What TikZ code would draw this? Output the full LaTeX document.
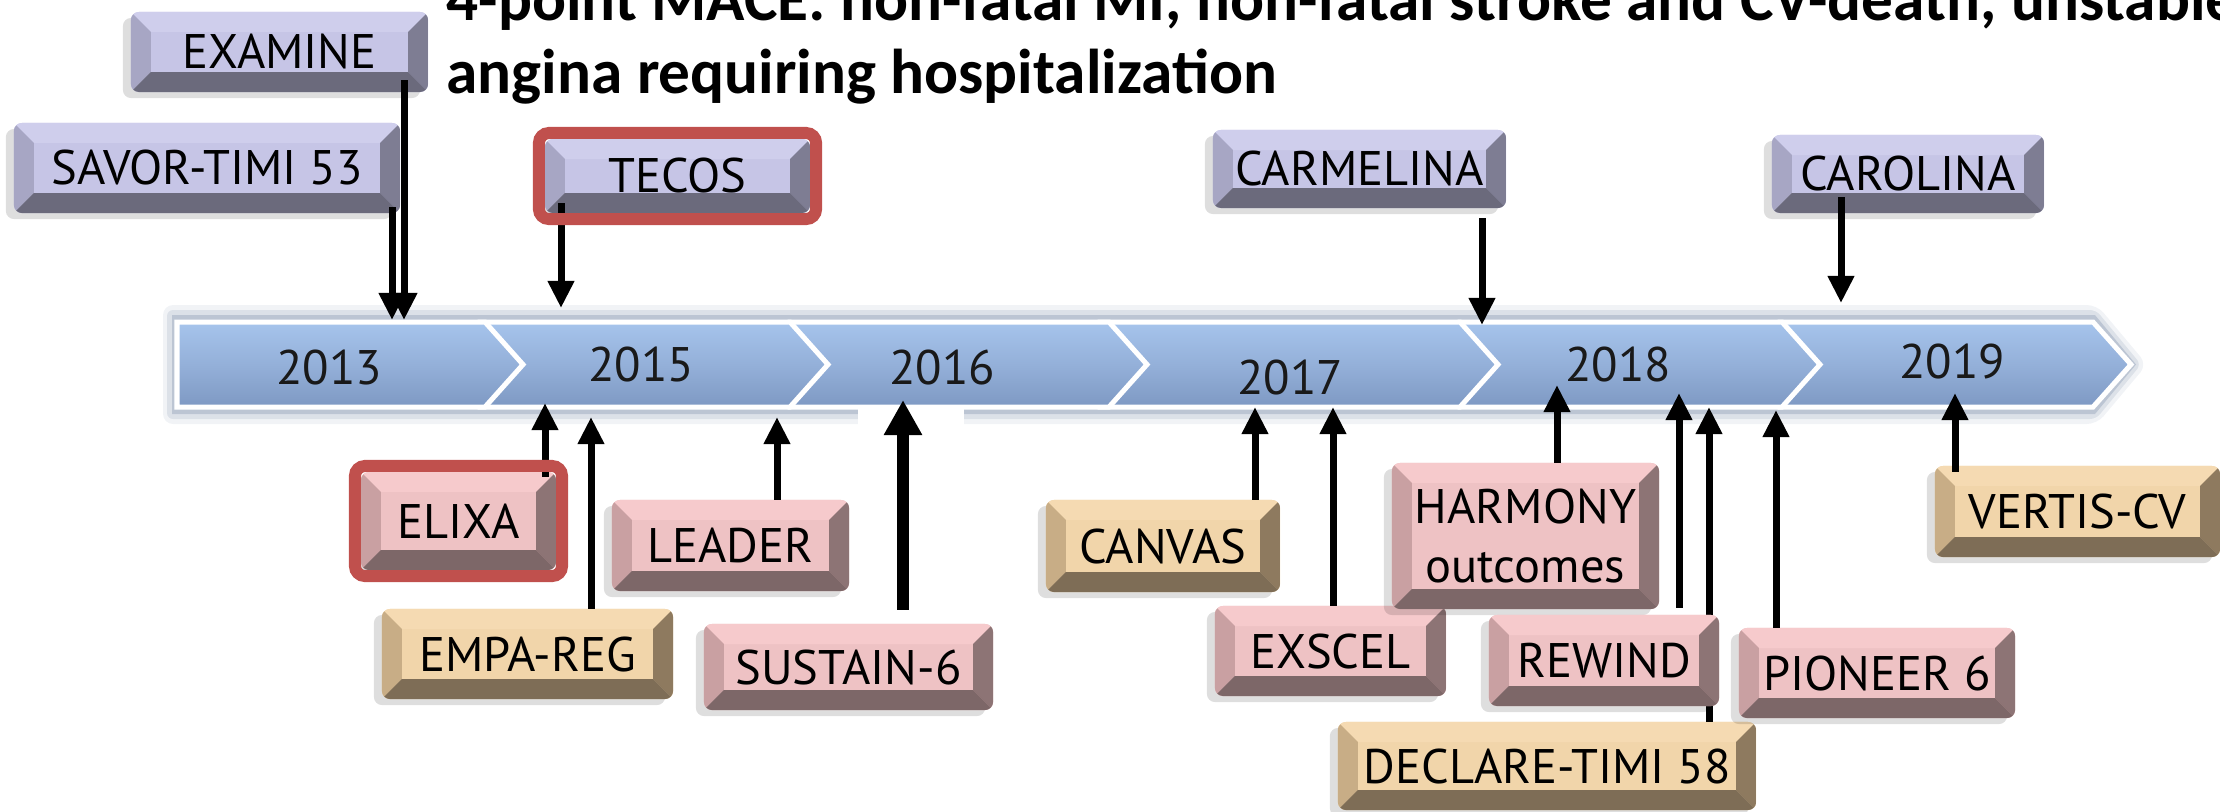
\documentclass[tikz,border=0pt]{standalone}
\usepackage{fontspec}
\setmainfont{PT Sans}
\newfontfamily\headfont{Carlito}
\usetikzlibrary{arrows.meta}
\usetikzlibrary{shadows}
\usetikzlibrary{calc}

\definecolor{lavface}{HTML}{C6C5E6}
\definecolor{lavtop}{HTML}{CFCEEC}
\definecolor{lavleft}{HTML}{A7A6C4}
\definecolor{lavright}{HTML}{7E7D93}
\definecolor{lavbot}{HTML}{6B6A7C}
\definecolor{pinkface}{HTML}{EEC2C4}
\definecolor{pinktop}{HTML}{F6CACC}
\definecolor{pinkleft}{HTML}{C9A0A2}
\definecolor{pinkright}{HTML}{8D7475}
\definecolor{pinkbot}{HTML}{7D6768}
\definecolor{tanface}{HTML}{F1D5AA}
\definecolor{tantop}{HTML}{F5DAB2}
\definecolor{tanleft}{HTML}{C8AD86}
\definecolor{tanright}{HTML}{8E7A5F}
\definecolor{tanbot}{HTML}{7E6D56}
\definecolor{hired}{HTML}{C0504D}
\definecolor{ribtop}{HTML}{A6C4EC}
\definecolor{ribmid}{HTML}{94B0D9}
\definecolor{ribbot}{HTML}{7E99C3}
\definecolor{ribshade}{HTML}{3F5A82}

\tikzset{
  bevel/.style n args={5}{fill=#1, rounded corners=0.08cm, path picture={
    \fill[#2, sharp corners] (path picture bounding box.north west) -- (path picture bounding box.north east) -- ([shift={(-0.2cm,-0.2cm)}]path picture bounding box.north east) -- ([shift={(0.2cm,-0.2cm)}]path picture bounding box.north west) -- cycle;
    \fill[#3, sharp corners] (path picture bounding box.north west) -- ([shift={(0.2cm,-0.2cm)}]path picture bounding box.north west) -- ([shift={(0.2cm,0.2cm)}]path picture bounding box.south west) -- (path picture bounding box.south west) -- cycle;
    \fill[#4, sharp corners] (path picture bounding box.north east) -- ([shift={(-0.2cm,-0.2cm)}]path picture bounding box.north east) -- ([shift={(-0.2cm,0.2cm)}]path picture bounding box.south east) -- (path picture bounding box.south east) -- cycle;
    \fill[#5, sharp corners] (path picture bounding box.south west) -- ([shift={(0.2cm,0.2cm)}]path picture bounding box.south west) -- ([shift={(-0.2cm,0.2cm)}]path picture bounding box.south east) -- (path picture bounding box.south east) -- cycle;
  }},
  trialbox/.style={inner sep=0pt, outer sep=0pt, align=center, font=\fontsize{13.8}{17}\selectfont,
    drop shadow={shadow xshift=-0.08cm, shadow yshift=-0.06cm, fill=black, opacity=0.13}},
  lav/.style={trialbox, bevel={lavface}{lavtop}{lavleft}{lavright}{lavbot}},
  pinkb/.style={trialbox, bevel={pinkface}{pinktop}{pinkleft}{pinkright}{pinkbot}},
  tanb/.style={trialbox, bevel={tanface}{tantop}{tanleft}{tanright}{tanbot}},
  hilite/.style={draw=hired, line width=0.12cm, rounded corners=0.1cm},
  trialarrow/.style={line width=0.07cm, -{Triangle[width=0.25cm,length=0.27cm]}},
  bigarrow/.style={line width=0.12cm, -{Triangle[width=0.36cm,length=0.35cm]}},
  ribseg/.style={draw=white, line width=0.05cm, top color=ribtop, bottom color=ribbot, middle color=ribmid},
  yearlab/.style={font=\fontsize{13.8}{17}\selectfont, text=black!90, inner sep=0pt},
  headline/.style={font=\headfont\bfseries\fontsize{18}{21}\selectfont, inner sep=0pt, anchor=base west}
}

\begin{document}
\begin{tikzpicture}[x=0.01cm,y=-0.01cm]
\useasboundingbox (0,0) rectangle (2220,811);
\clip (0,0) rectangle (2220,811);

% heading
\node[headline] (title1) at (446,20) {4-point MACE: non-fatal MI, non-fatal stroke and CV-death, unstable};
\node[headline] (title2) at (446,93) {angina requiring hospitalization};

% timeline ribbon
\fill[ribshade,opacity=0.07,rounded corners=0.1cm] (163,305) -- (2097,305) -- (2147,364.5) -- (2097,424) -- (163,424) -- cycle;
\fill[ribshade,opacity=0.12,rounded corners=0.06cm] (167,310) -- (2096,310) -- (2141,364.5) -- (2096,419) -- (167,419) -- cycle;
\fill[ribshade,opacity=0.2] (172,315) -- (2095,315) -- (2136,364.5) -- (2095,414) -- (172,414) -- cycle;
\fill[white] (858,407) rectangle (964,430);
\draw[ribseg] (1780,322) -- (2093,322) -- (2131,364.5) -- (2093,407) -- (1780,407) -- cycle;
\draw[ribseg] (1460,322) -- (1782,322) -- (1820,364.5) -- (1782,407) -- (1460,407) -- cycle;
\draw[ribseg] (1100,322) -- (1460,322) -- (1498,364.5) -- (1460,407) -- (1100,407) -- cycle;
\draw[ribseg] (790,322) -- (1109,322) -- (1147,364.5) -- (1109,407) -- (790,407) -- cycle;
\draw[ribseg] (480,322) -- (790,322) -- (828,364.5) -- (790,407) -- (480,407) -- cycle;
\draw[ribseg] (177,322) -- (485,322) -- (523,364.5) -- (485,407) -- (177,407) -- cycle;
\node[yearlab] (y2013) at (329,367) {2013};
\node[yearlab] (y2015) at (641,365) {2015};
\node[yearlab] (y2016) at (942,367) {2016};
\node[yearlab] (y2017) at (1290,377) {2017};
\node[yearlab] (y2018) at (1618,364) {2018};
\node[yearlab] (y2019) at (1952,362) {2019};

% trials above the line
\node[lav, minimum width=2.97cm, minimum height=0.80cm] (examine) at (279.5,52) {EXAMINE};
\node[lav, minimum width=3.86cm, minimum height=0.90cm] (savor) at (207,168) {SAVOR-TIMI 53};
\node[lav, minimum width=2.65cm, minimum height=0.74cm] (tecos) at (677.5,176) {TECOS};
\node[lav, minimum width=2.93cm, minimum height=0.78cm] (carmelina) at (1359.5,169) {CARMELINA};
\node[lav, minimum width=2.72cm, minimum height=0.78cm] (carolina) at (1908,174) {CAROLINA};

% trials below the line
\node[pinkb, minimum width=1.95cm, minimum height=0.98cm] (elixa) at (458.5,521) {ELIXA};
\node[tanb, minimum width=2.91cm, minimum height=0.90cm] (empareg) at (527.5,654) {EMPA-REG};
\node[pinkb, minimum width=2.37cm, minimum height=0.91cm] (leader) at (730.5,545.5) {LEADER};
\node[pinkb, minimum width=2.89cm, minimum height=0.86cm] (sustain) at (848.5,667) {SUSTAIN-6};
\node[tanb, minimum width=2.34cm, minimum height=0.92cm] (canvas) at (1163,546) {CANVAS};
\node[pinkb, minimum width=2.31cm, minimum height=0.90cm] (exscel) at (1330.5,651) {EXSCEL};
\node[pinkb, minimum width=2.67cm, minimum height=1.46cm] (harmony) at (1525.5,536) {HARMONY\\outcomes};
\node[tanb, minimum width=4.18cm, minimum height=0.88cm] (declare) at (1547,766) {DECLARE-TIMI 58};
\coordinate (tip-declare) at (1709,407);
\draw[trialarrow] (tip-declare |- declare.north) -- (tip-declare);
\node[pinkb, minimum width=2.30cm, minimum height=0.91cm] (rewind) at (1604,660.5) {REWIND};
\node[pinkb, minimum width=2.76cm, minimum height=0.90cm] (pioneer) at (1877,673) {PIONEER 6};
\node[tanb, minimum width=2.85cm, minimum height=0.91cm] (vertis) at (2077.5,511.5) {VERTIS-CV};

% arrows to the timeline
\coordinate (tip-examine) at (404,320);
\coordinate (tip-savor) at (392,320);
\coordinate (tip-tecos) at (561,308);
\coordinate (tip-carmelina) at (1482,325);
\coordinate (tip-carolina) at (1841,303);
\coordinate (tip-elixa) at (545,403);
\coordinate (tip-empareg) at (591,417);
\coordinate (tip-leader) at (777,417);
\coordinate (tip-sustain) at (903,400);
\coordinate (tip-canvas) at (1255,407);
\coordinate (tip-exscel) at (1333,407);
\coordinate (tip-harmony) at (1557,385);
\coordinate (tip-rewind) at (1679,393);
\coordinate (tip-pioneer) at (1776,410);
\coordinate (tip-vertis) at (1955,393);
\draw[trialarrow] ($(tip-examine |- examine.south)+(0,-12)$) -- (tip-examine);
\draw[trialarrow] ($(tip-savor |- savor.south)+(0,-6)$) -- (tip-savor);
\draw[trialarrow] ($(tip-tecos |- tecos.south)+(0,-10)$) -- (tip-tecos);
\draw[trialarrow] ($(tip-carmelina |- carmelina.south)+(0,10)$) -- (tip-carmelina);
\draw[trialarrow] ($(tip-carolina |- carolina.south)+(0,-16)$) -- (tip-carolina);
\draw[trialarrow] ($(tip-elixa |- elixa.north)+(0,5)$) -- (tip-elixa);
\draw[trialarrow] (tip-empareg |- empareg.north) -- (tip-empareg);
\draw[trialarrow] (tip-leader |- leader.north) -- (tip-leader);
\draw[bigarrow] ($(tip-sustain |- sustain.north)+(0,-14)$) -- (tip-sustain);
\draw[trialarrow] (tip-canvas |- canvas.north) -- (tip-canvas);
\draw[trialarrow] (tip-exscel |- exscel.north) -- (tip-exscel);
\draw[trialarrow] (tip-harmony |- harmony.north) -- (tip-harmony);
\draw[trialarrow] ($(tip-rewind |- rewind.north)+(0,-7)$) -- (tip-rewind);
\draw[trialarrow] (tip-pioneer |- pioneer.north) -- (tip-pioneer);
\draw[trialarrow] ($(tip-vertis |- vertis.north)+(0,6)$) -- (tip-vertis);

% highlighted trials
\draw[hilite] ([shift={(-0.06cm,0.06cm)}]tecos.north west) rectangle ([shift={(0.06cm,-0.06cm)}]tecos.south east);
\draw[hilite] ([shift={(-0.06cm,0.06cm)}]elixa.north west) rectangle ([shift={(0.06cm,-0.06cm)}]elixa.south east);

\end{tikzpicture}
\end{document}
